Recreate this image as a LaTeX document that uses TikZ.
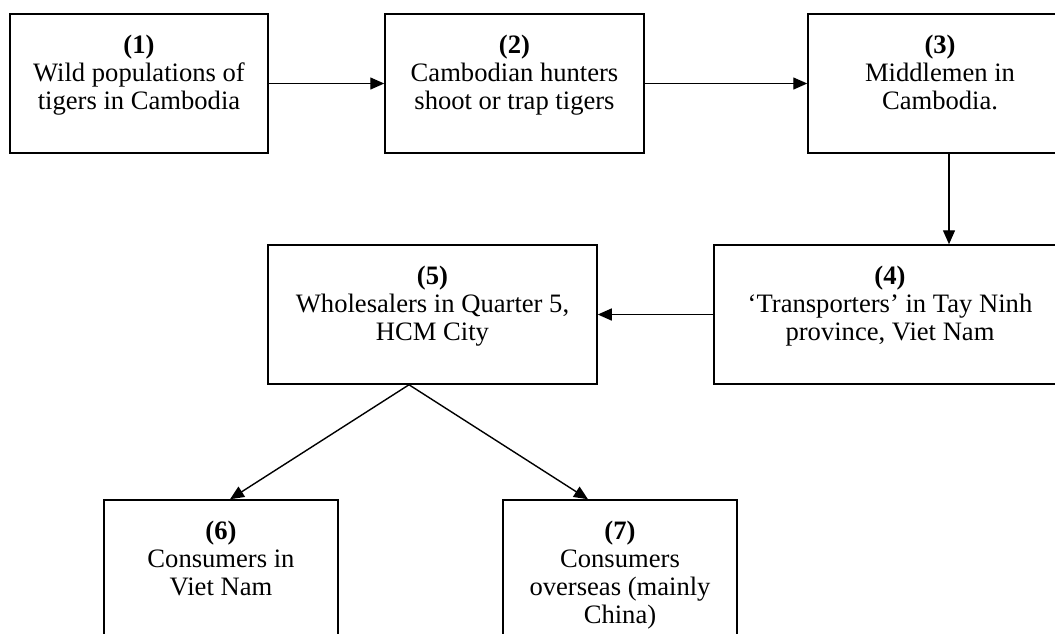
\documentclass[tikz,border=0pt]{standalone}
\usepackage{fontspec}
\setmainfont{Liberation Serif}
\usepackage{tikz}
\usetikzlibrary{positioning,arrows.meta}

\begin{document}
\begin{tikzpicture}[x=0.5pt, y=-0.5pt]
    \tikzstyle{stage} = [rectangle, draw, line width=0.75pt, inner sep=0pt, minimum height=69.5pt]
    \tikzstyle{stagetext} = [align=center, inner sep=0pt, font=\fontsize{13.3pt}{14pt}\selectfont]
    \tikzstyle{flow} = [-{Triangle[length=7pt,width=6pt]}, line width=0.7pt]

    \useasboundingbox (0,0) rectangle (1055,633);
    \clip (0,0) rectangle (1055,633);

    % Boxes of the trade chain
    \node[stage, minimum width=129pt] (b1) at (139,83.5) {};
    \node[stage, minimum width=129.5pt] (b2) at (514.5,83.5) {};
    \node[stage, minimum width=132pt] (b3) at (940,83.5) {};
    \node[stage, minimum width=176pt] (b4) at (890,314.5) {};
    \node[stage, minimum width=164.5pt] (b5) at (432.5,314.5) {};
    \node[stage, minimum width=117pt] (b6) at (221,569.5) {};
    \node[stage, minimum width=117pt] (b7) at (620,569.5) {};

    % Texts
    \node[stagetext, below=10.5pt of b1.north] (t1) {\textbf{(1)}\\Wild populations of\\tigers in Cambodia};
    \node[stagetext, below=10.5pt of b2.north] (t2) {\textbf{(2)}\\Cambodian hunters\\shoot or trap tigers};
    \node[stagetext, below=10.5pt of b3.north] (t3) {\textbf{(3)}\\Middlemen in\\Cambodia.};
    \node[stagetext, below=10.5pt of b4.north] (t4) {\textbf{(4)}\\`Transporters' in Tay Ninh\\province, Viet Nam};
    \node[stagetext, below=10.5pt of b5.north] (t5) {\textbf{(5)}\\Wholesalers in Quarter 5,\\HCM City};
    \node[stagetext, below=10.5pt of b6.north] (t6) {\textbf{(6)}\\Consumers in\\Viet Nam};
    \node[stagetext, below=10.5pt of b7.north] (t7) {\textbf{(7)}\\Consumers\\overseas (mainly\\China)};

    % Arrows
    \draw[flow] (b1.east) -- (b2.west);
    \draw[flow] (b2.east) -- (b3.west);
    \draw[flow] ([xshift=4.5pt]b3.south) -- ([xshift=4.5pt]b3.south |- b4.north);
    \draw[flow] (b4.west) -- (b5.east);
    \draw[flow] ([xshift=-11.75pt]b5.south) -- ([xshift=4.5pt]b6.north);
    \draw[flow] ([xshift=-11.75pt]b5.south) -- ([xshift=-16pt]b7.north);

\end{tikzpicture}
\end{document}
